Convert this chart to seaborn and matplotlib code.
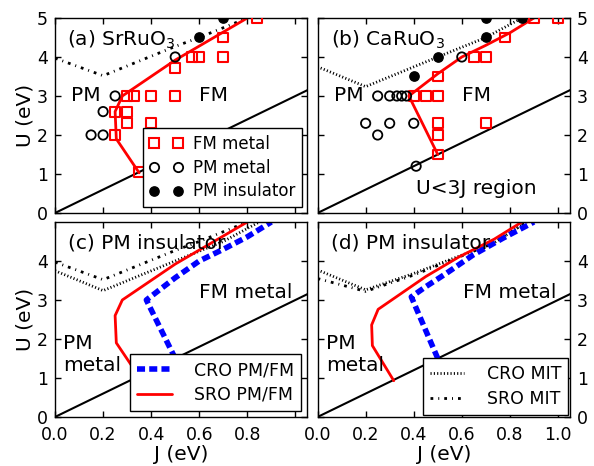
import matplotlib
matplotlib.use("Agg")
import matplotlib.pyplot as plt
from matplotlib.lines import Line2D
import seaborn as sns

sns.set_theme(style="ticks")
plt.rcParams["font.family"] = ["DejaVu Sans"]
plt.rcParams.update({
    "mathtext.fontset": "dejavusans",
    "text.color": "black",
    "axes.labelcolor": "black",
    "axes.edgecolor": "black",
    "axes.linewidth": 1.0,
    "xtick.direction": "in",
    "ytick.direction": "in",
    "xtick.top": True,
    "ytick.right": True,
    "xtick.major.size": 4.5,
    "ytick.major.size": 4.5,
    "xtick.major.width": 1.0,
    "ytick.major.width": 1.0,
    "xtick.major.pad": 6.5,
    "ytick.major.pad": 5,
    "xtick.color": "black",
    "ytick.color": "black",
    "xtick.labelcolor": "black",
    "ytick.labelcolor": "black",
    "xtick.labelsize": 12.5,
    "ytick.labelsize": 12.5,
    "axes.labelsize": 14.5,
})

# ---- calculated points, SrRuO3 (a) ----
sro_fm_j = [0.84, 0.70, 0.70, 0.60, 0.57, 0.50, 0.50, 0.40, 0.33, 0.30, 0.25, 0.30, 0.30, 0.40, 0.25, 0.35]
sro_fm_u = [5.0, 4.5, 4.0, 4.0, 4.0, 3.72, 3.0, 3.0, 3.0, 3.0, 2.6, 2.6, 2.3, 2.3, 2.0, 1.05]
sro_pm_j = [0.50, 0.25, 0.20, 0.15, 0.20]
sro_pm_u = [4.0, 3.0, 2.6, 2.0, 2.0]
sro_ins_j = [0.60, 0.70]
sro_ins_u = [4.5, 5.0]

# ---- calculated points, CaRuO3 (b) ----
cro_fm_j = [0.90, 1.00, 0.78, 0.70, 0.65, 0.50, 0.40, 0.45, 0.50, 0.50, 0.70, 0.50, 0.50]
cro_fm_u = [5.0, 5.0, 4.5, 4.0, 4.0, 3.5, 3.0, 3.0, 3.0, 2.3, 2.3, 2.0, 1.5]
cro_pm_j = [0.60, 0.25, 0.30, 0.33, 0.35, 0.37, 0.20, 0.30, 0.40, 0.25, 0.41]
cro_pm_u = [4.0, 3.0, 3.0, 3.0, 3.0, 3.0, 2.3, 2.3, 2.3, 2.0, 1.2]
cro_ins_j = [0.40, 0.50, 0.70, 0.70, 0.85]
cro_ins_u = [3.5, 4.0, 4.5, 5.0, 5.0]

# ---- phase boundaries ----
sro_pmfm_j = [0.35, 0.255, 0.25, 0.28, 0.50, 0.60, 0.70, 0.80]
sro_pmfm_u = [1.03, 1.9, 2.6, 3.0, 3.92, 4.28, 4.64, 5.0]
cro_pmfm_j = [0.50, 0.38, 0.50, 0.60, 0.70, 0.80, 0.90]
cro_pmfm_u = [1.5, 3.0, 3.57, 4.0, 4.3, 4.62, 5.0]
sro_mit_j = [0.0, 0.2, 0.5, 0.6, 0.8]
sro_mit_u = [3.97, 3.52, 4.27, 4.5, 5.0]
cro_mit_j = [0.0, 0.2, 0.5, 0.7, 0.85]
cro_mit_u = [3.75, 3.24, 4.0, 4.5, 5.0]

# panel (d)
d_sro_pmfm_j = [0.317, 0.228, 0.225, 0.252, 0.45, 0.59, 0.735, 0.85]
d_sro_pmfm_u = [0.93, 1.83, 2.36, 2.76, 3.6, 4.11, 4.56, 5.0]
d_cro_pmfm_j = [0.50, 0.39, 0.45, 0.535, 0.646, 0.77, 0.90]
d_cro_pmfm_u = [1.5, 3.08, 3.34, 3.68, 4.15, 4.58, 5.0]
d_cro_mit_j = [0.0, 0.2, 0.4, 0.6, 0.73, 0.87]
d_cro_mit_u = [3.77, 3.26, 3.68, 4.15, 4.45, 5.0]
d_sro_mit_j = [0.0, 0.2, 0.4, 0.6, 0.73, 0.87]
d_sro_mit_u = [3.55, 3.22, 3.64, 4.13, 4.45, 5.0]

# U = 3J line
diag_j = [0.0, 1.1]
diag_u = [0.0, 3.3]

x_ticks = [0.0, 0.2, 0.4, 0.6, 0.8, 1.0]

RED = "#ff0000"
BLUE = "#0000ff"
BLUE_LS = (0, (1.45, 0.75))
DOT_LS = (0, (0.4, 0.8))
DASHDOT_LS = (0, (1.0, 1.8, 0.35, 1.8))
TXT = 14.5


def line(ax, j, u, color, lw, ls="-"):
    sns.lineplot(x=j, y=u, sort=False, estimator=None, color=color,
                 lw=lw, linestyle=ls, ax=ax)


def points(ax, fm_j, fm_u, pm_j, pm_u, ins_j, ins_u):
    sns.scatterplot(x=fm_j, y=fm_u, marker="s", s=50, facecolor="none",
                    edgecolor=RED, linewidth=1.5, ax=ax, zorder=3)
    sns.scatterplot(x=pm_j, y=pm_u, marker="o", s=45, facecolor="none",
                    edgecolor="black", linewidth=1.3, ax=ax, zorder=3)
    sns.scatterplot(x=ins_j, y=ins_u, marker="o", s=45, color="black",
                    edgecolor="black", linewidth=1.0, ax=ax, zorder=3)


fig, axes = plt.subplots(2, 2, figsize=(5.94, 4.66), dpi=100)
fig.subplots_adjust(left=0.0926, right=0.9596, bottom=0.1052, top=0.9614,
                    wspace=0.04, hspace=0.046)
ax_a, ax_b = axes[0]
ax_c, ax_d = axes[1]

# (a)
line(ax_a, diag_j, diag_u, "black", 1.5)
line(ax_a, sro_mit_j, sro_mit_u, "black", 2, DASHDOT_LS)
line(ax_a, sro_pmfm_j, sro_pmfm_u, RED, 2)
points(ax_a, sro_fm_j, sro_fm_u, sro_pm_j, sro_pm_u, sro_ins_j, sro_ins_u)
ax_a.text(0.05, 4.44, "(a) SrRuO$_3$", fontsize=TXT, va="center")
ax_a.text(0.13, 3.0, "PM", fontsize=TXT, ha="center", va="center")
ax_a.text(0.66, 3.0, "FM", fontsize=TXT, ha="center", va="center")
h_pts = [
    Line2D([], [], ls="none", marker="s", ms=7, mfc="none", mec=RED, mew=1.5),
    Line2D([], [], ls="none", marker="o", ms=6.7, mfc="none", mec="black", mew=1.3),
    Line2D([], [], ls="none", marker="o", ms=6.7, mfc="black", mec="black"),
]
leg = ax_a.legend(h_pts, ["FM metal", "PM metal", "PM insulator"], loc="lower right",
                  numpoints=2, fontsize=12, fancybox=False, framealpha=1,
                  edgecolor="black", borderaxespad=0.35, handletextpad=0.6,
                  labelspacing=0.35)
leg.get_frame().set_linewidth(1.0)

# (b)
line(ax_b, diag_j, diag_u, "black", 1.5)
line(ax_b, cro_mit_j, cro_mit_u, "black", 2, DOT_LS)
line(ax_b, cro_pmfm_j, cro_pmfm_u, RED, 2)
points(ax_b, cro_fm_j, cro_fm_u, cro_pm_j, cro_pm_u, cro_ins_j, cro_ins_u)
ax_b.text(0.055, 4.44, "(b) CaRuO$_3$", fontsize=TXT, va="center")
ax_b.text(0.13, 3.0, "PM", fontsize=TXT, ha="center", va="center")
ax_b.text(0.66, 3.0, "FM", fontsize=TXT, ha="center", va="center")
ax_b.text(0.41, 0.64, "U<3J region", fontsize=TXT, va="center")

# (c)
line(ax_c, diag_j, diag_u, "black", 1.5)
line(ax_c, cro_mit_j, cro_mit_u, "black", 2, DOT_LS)
line(ax_c, sro_mit_j, sro_mit_u, "black", 2, DASHDOT_LS)
line(ax_c, cro_pmfm_j, cro_pmfm_u, BLUE, 4, BLUE_LS)
line(ax_c, sro_pmfm_j, sro_pmfm_u, RED, 2)
ax_c.text(0.055, 4.46, "(c) PM insulator", fontsize=TXT, va="center")
ax_c.text(0.60, 3.18, "FM metal", fontsize=TXT, va="center")
ax_c.text(0.035, 1.6, "PM\nmetal", fontsize=TXT, va="center", linespacing=1.2)
h_c = [Line2D([], [], color=BLUE, lw=4, ls=BLUE_LS), Line2D([], [], color=RED, lw=2)]
leg = ax_c.legend(h_c, ["CRO PM/FM", "SRO PM/FM"], loc="lower right", fontsize=12.5,
                  fancybox=False, framealpha=1, edgecolor="black",
                  borderaxespad=0.35, handletextpad=1.3, labelspacing=0.4)
leg.get_frame().set_linewidth(1.0)

# (d)
line(ax_d, diag_j, diag_u, "black", 1.5)
line(ax_d, d_cro_mit_j, d_cro_mit_u, "black", 2, DOT_LS)
line(ax_d, d_sro_mit_j, d_sro_mit_u, "black", 2, DASHDOT_LS)
line(ax_d, d_cro_pmfm_j, d_cro_pmfm_u, BLUE, 4, BLUE_LS)
line(ax_d, d_sro_pmfm_j, d_sro_pmfm_u, RED, 2)
ax_d.text(0.055, 4.46, "(d) PM insulator", fontsize=TXT, va="center")
ax_d.text(0.605, 3.18, "FM metal", fontsize=TXT, va="center")
ax_d.text(0.035, 1.6, "PM\nmetal", fontsize=TXT, va="center", linespacing=1.2)
h_d = [Line2D([], [], color="black", lw=2, ls=DOT_LS),
       Line2D([], [], color="black", lw=2, ls=DASHDOT_LS)]
leg = ax_d.legend(h_d, ["CRO MIT", "SRO MIT"], loc="lower right", fontsize=12.5,
                  fancybox=False, framealpha=1, edgecolor="black",
                  borderaxespad=0.1, handletextpad=1.3, labelspacing=0.4)
leg.get_frame().set_linewidth(1.0)

for ax in axes.flat:
    ax.set_xlim(0, 1.05)
    ax.set_ylim(0, 5)
    ax.set_xticks(x_ticks)
    ax.set_xlabel("")
    ax.set_ylabel("")
    ax.tick_params(top=True, right=True, left=True, bottom=True)

for ax in (ax_a, ax_b):
    ax.set_yticks([0, 1, 2, 3, 4, 5])
    ax.tick_params(labelbottom=False)
for ax in (ax_c, ax_d):
    ax.set_yticks([0, 1, 2, 3, 4])
    ax.set_xlabel("J (eV)", labelpad=0.5)
for ax in (ax_b, ax_d):
    ax.tick_params(labelleft=False, labelright=True)
for ax in (ax_a, ax_c):
    ax.set_ylabel("U (eV)", labelpad=2)

ax_c.set_xticklabels(["0.0", "0.2", "0.4", "0.6", "0.8", ""])
ax_d.set_xticklabels(["0.0", "0.2", "0.4", "0.6", "0.8", "1.0"])

fig.savefig("out.png", dpi=100)
